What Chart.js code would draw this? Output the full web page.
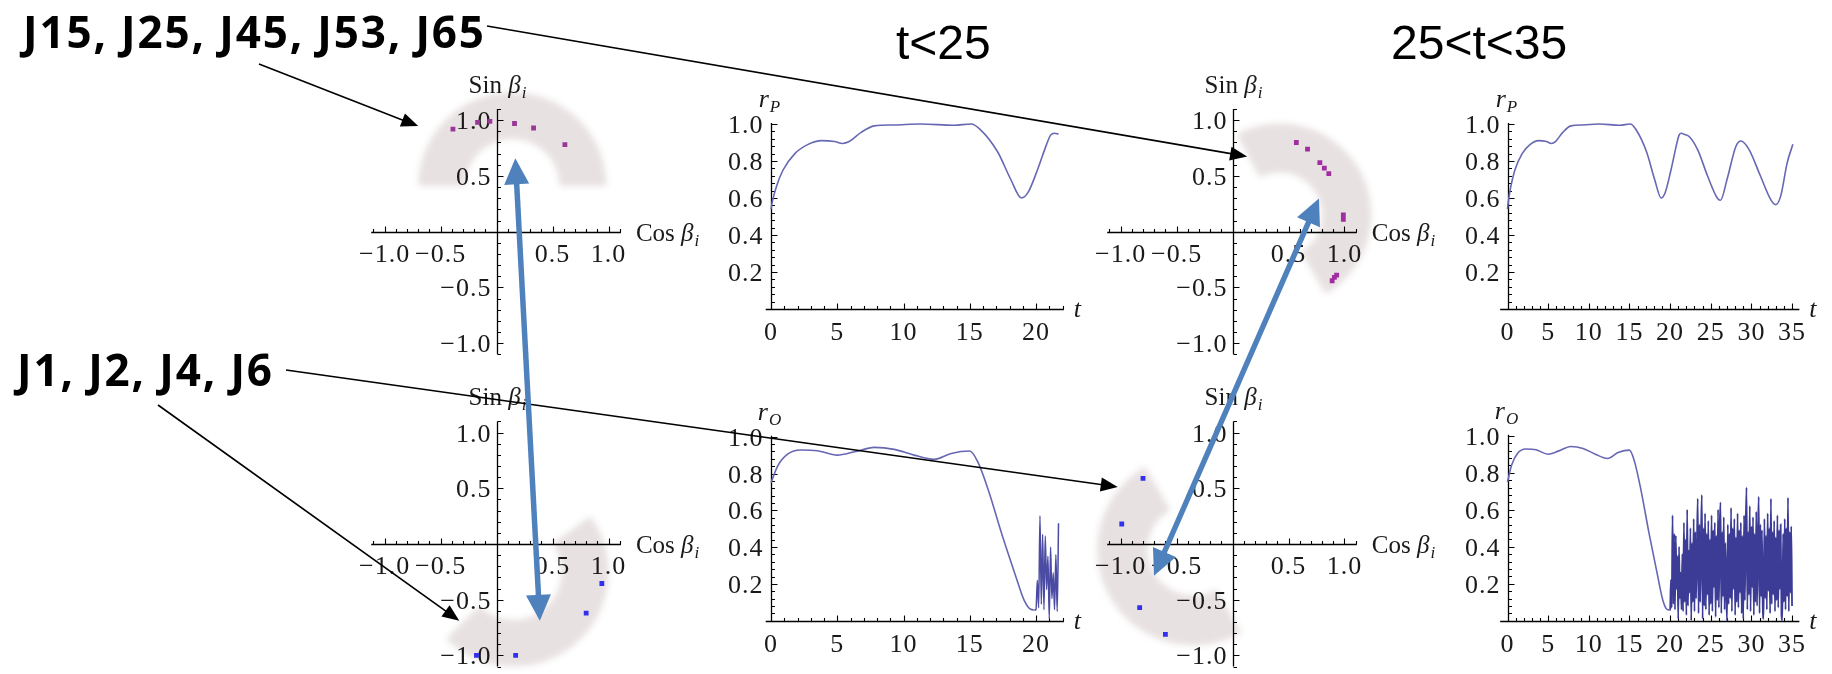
<!DOCTYPE html>
<html><head><meta charset="utf-8">
<script src="https://cdn.jsdelivr.net/npm/chart.js@4.4.1/dist/chart.umd.min.js"></script>
<style>
html,body{margin:0;padding:0;background:#fff;}
#stage{position:relative;width:1832px;height:674px;overflow:hidden;background:#fff;}
#stage canvas{position:absolute;}
</style></head><body><div id="stage"></div>
<script>
// ---------------- data ----------------
const tlCos = [-0.39, -0.17, -0.06, 0.16, 0.33, 0.61];
const tlSin = [0.92, 0.98, 0.99, 0.97, 0.93, 0.78];
const trCos = [0.57, 0.67, 0.78, 0.82, 0.86, 0.99, 0.99, 0.89, 0.91, 0.93];
const trSin = [0.80, 0.74, 0.62, 0.57, 0.52, 0.15, 0.11, -0.44, -0.41, -0.39];
const blCos = [0.94, 0.80, 0.17, -0.18];
const blSin = [-0.354, -0.62, -1.0, -1.0];
const brCos = [-0.80, -0.99, -0.83, -0.60];
const brSin = [0.59, 0.18, -0.57, -0.81];

const rPTime  = [0, 0.1, 0.4, 0.9, 1.8, 2.8, 3.8, 4.8, 5.4, 5.9, 6.8, 7.8, 9.3, 11.3, 13.8, 15.1, 15.8, 17.1, 18.1, 18.9,
                 19.4, 20.1, 20.8, 21.1, 21.4, 21.7, 22.4, 23.4, 24.6, 25.8, 26.2, 27.0, 28.1, 28.7, 29.7, 31.1, 32.4, 33.0, 33.6, 34.4, 35.1];
const rPValue = [0.54, 0.58, 0.66, 0.75, 0.84, 0.89, 0.91, 0.905, 0.895, 0.905, 0.955, 0.99, 0.995, 1.0, 0.993, 1.0, 0.97, 0.85, 0.70, 0.60,
                 0.63, 0.75, 0.89, 0.94, 0.95, 0.945, 0.93, 0.86, 0.72, 0.60, 0.588, 0.70, 0.88, 0.908, 0.863, 0.72, 0.59, 0.564, 0.61, 0.79, 0.89];

const rOTime  = [0, 0.5, 1.25, 2.25, 3.5, 5.0, 6.3, 7.8, 9.3, 10.8, 12.3, 13.6, 15.0, 15.6, 16.4, 17.4, 18.4, 19.1, 19.6, 19.9];
const rOValue = [0.75, 0.84, 0.905, 0.928, 0.924, 0.90, 0.918, 0.942, 0.931, 0.90, 0.877, 0.909, 0.922, 0.864, 0.71, 0.475, 0.257, 0.112, 0.062, 0.058];
// r_O after the break-up: samples every 0.1 from t = 20.0 to 35.0
const rONoiseStart = 20.0, rONoiseStep = 0.1;
const rONoise = [
  0.06,0.22,0.07,0.57,0.09,0.47,0.06,0.46,0.17,0.35,
  0.01,0.40,0.12,0.26,0.06,0.36,0.05,0.53,0.10,0.44,
  0.03,0.60,0.08,0.38,0.15,0.50,0.00,0.42,0.10,0.55,
  0.05,0.48,0.12,0.40,0.66,0.04,0.52,0.10,0.45,0.68,
  0.01,0.50,0.08,0.58,0.06,0.47,0.14,0.54,0.03,0.44,
  0.09,0.57,0.05,0.49,0.18,0.53,0.02,0.46,0.11,0.60,
  0.07,0.50,0.64,0.04,0.48,0.13,0.56,0.06,0.42,0.16,
  0.00,0.52,0.09,0.47,0.12,0.61,0.05,0.50,0.17,0.55,
  0.03,0.45,0.10,0.58,0.07,0.49,0.15,0.53,0.04,0.46,
  0.01,0.57,0.11,0.50,0.72,0.06,0.48,0.14,0.62,0.05,
  0.51,0.18,0.56,0.03,0.47,0.10,0.59,0.08,0.44,0.67,
  0.04,0.52,0.13,0.49,0.07,0.01,0.55,0.12,0.46,0.06,
  0.58,0.16,0.50,0.04,0.66,0.09,0.48,0.14,0.54,0.05,
  0.45,0.11,0.57,0.07,0.49,0.17,0.52,0.03,0.00,0.47,
  0.10,0.55,0.06,0.50,0.13,0.665,0.05,0.48,0.15,0.51,
  0.08
];

const scatterTicks = [-1, -0.5, 0.5, 1];
const scatterTickLabels = ['\u22121.0', '\u22120.5', '0.5', '1.0'];
const rTicks = [0.2, 0.4, 0.6, 0.8, 1.0];
const rTickLabels = ['0.2', '0.4', '0.6', '0.8', '1.0'];
const tTicksShort = [0, 5, 10, 15, 20];
const tTickLabelsShort = ['0', '5', '10', '15', '20'];
const tTicksLong = [0, 5, 10, 15, 20, 25, 30, 35];
const tTickLabelsLong = ['0', '5', '10', '15', '20', '25', '30', '35'];

const titleEarly = 't<25';
const titleLate = '25<t<35';
const groupTop = 'J15, J25, J45, J53, J65';
const groupBottom = 'J1, J2, J4, J6';

// ---------------- helpers ----------------
const SERIF = '"Liberation Serif", "Times New Roman", serif';
const stage = document.getElementById('stage');

function mkCanvas(rect, z) {
  const c = document.createElement('canvas');
  c.width = rect[2]; c.height = rect[3];
  c.style.left = rect[0] + 'px'; c.style.top = rect[1] + 'px';
  c.style.width = rect[2] + 'px'; c.style.height = rect[3] + 'px';
  c.style.zIndex = z;
  stage.appendChild(c);
  return c;
}
function pts(xs, ys) { return xs.map((x, i) => ({ x: x, y: ys[i] })); }

function drawRich(ctx, parts, x, y, align) {
  ctx.letterSpacing = '0px';
  let w = 0;
  const ms = parts.map(p => { ctx.font = p.f + ' ' + SERIF; const m = ctx.measureText(p.t).width + (p.kern || 0); w += m; return m; });
  let cx = align === 'center' ? x - w / 2 : (align === 'right' ? x - w : x);
  ctx.textAlign = 'left'; ctx.textBaseline = 'alphabetic';
  parts.forEach((p, i) => { ctx.font = p.f + ' ' + SERIF; ctx.fillText(p.t, cx, y + (p.dy || 0)); cx += ms[i]; });
}

function drawBand(ch, b) {
  const ctx = ch.ctx, X = v => ch.scales.x.getPixelForValue(v), Y = v => ch.scales.y.getPixelForValue(v);
  ctx.save();
  ctx.filter = 'blur(3px)';
  ctx.fillStyle = '#e8e1e1';
  ctx.beginPath();
  const n = 72;
  for (let i = 0; i <= n; i++) {
    const a = (b.a0 + (b.a1 - b.a0) * i / n) * Math.PI / 180;
    const px = X(b.cx + b.rOut * Math.cos(a)), py = Y(b.cy + b.rOut * Math.sin(a));
    if (i === 0) ctx.moveTo(px, py); else ctx.lineTo(px, py);
  }
  for (let i = n; i >= 0; i--) {
    const a = (b.a0 + (b.a1 - b.a0) * i / n) * Math.PI / 180;
    ctx.lineTo(X(b.cx + b.rIn * Math.cos(a)), Y(b.cy + b.rIn * Math.sin(a)));
  }
  ctx.closePath(); ctx.fill();
  ctx.restore();
}

function drawScatterAxes(ch) {
  const ctx = ch.ctx, X = v => ch.scales.x.getPixelForValue(v), Y = v => ch.scales.y.getPixelForValue(v);
  const x0 = Math.round(X(0)) + 0.5, y0 = Math.round(Y(0)) + 0.5;
  const xa0 = -1.12, xa1 = 1.11, ya0 = -1.1, ya1 = 1.1;
  ctx.save();
  ctx.strokeStyle = '#000'; ctx.lineWidth = 1.3;
  ctx.beginPath();
  ctx.moveTo(X(xa0), y0); ctx.lineTo(X(xa1), y0);
  ctx.moveTo(x0, Y(ya0)); ctx.lineTo(x0, Y(ya1));
  ctx.stroke();
  ctx.lineWidth = 1.1;
  ctx.beginPath();
  for (let k = -11; k <= 11; k++) {
    if (k === 0) continue;
    const v = k / 10, L = (k % 5 === 0) ? 6 : 3.5;
    if (v >= xa0 && v <= xa1) { const px = Math.round(X(v)) + 0.5; ctx.moveTo(px, y0); ctx.lineTo(px, y0 - L); }
    if (v >= ya0 && v <= ya1) { const py = Math.round(Y(v)) + 0.5; ctx.moveTo(x0, py); ctx.lineTo(x0 + L, py); }
  }
  ctx.stroke();
  ctx.fillStyle = '#1a1a1a';
  ctx.font = '26px ' + SERIF; ctx.letterSpacing = '1px'; ctx.textBaseline = 'alphabetic';
  ctx.textAlign = 'center';
  scatterTicks.forEach((v, i) => ctx.fillText(scatterTickLabels[i], X(v), y0 + 29));
  ctx.textAlign = 'right';
  scatterTicks.forEach((v, i) => ctx.fillText(scatterTickLabels[i], x0 - 6, Y(v) + 9));
  drawRich(ctx, [{ t: 'Cos ', f: '25px' }, { t: '\u03B2', f: 'italic 25px', kern: 1 }, { t: 'i', f: 'italic 17px', dy: 5 }], X(xa1) + 15, y0 + 8, 'left');
  drawRich(ctx, [{ t: 'Sin ', f: '25px' }, { t: '\u03B2', f: 'italic 25px', kern: 1 }, { t: 'i', f: 'italic 17px', dy: 5 }], x0, Y(ya1) - 16, 'center');
  ctx.restore();
}

function drawLineAxes(ch, s) {
  const ctx = ch.ctx, X = v => ch.scales.x.getPixelForValue(v), Y = v => ch.scales.y.getPixelForValue(v);
  const x0 = Math.round(X(0)) + 0.5, y0 = Math.round(Y(0)) + 0.5;
  ctx.save();
  ctx.strokeStyle = '#000'; ctx.lineWidth = 1.3;
  ctx.beginPath();
  ctx.moveTo(X(s.tMin), y0); ctx.lineTo(X(s.tMax), y0);
  ctx.moveTo(x0, y0); ctx.lineTo(x0, Y(1.005));
  ctx.stroke();
  ctx.lineWidth = 1.1;
  ctx.beginPath();
  for (let k = 1; k <= Math.floor(s.tMax); k++) {
    const L = (k % 5 === 0) ? 6 : 3.5, px = Math.round(X(k)) + 0.5;
    ctx.moveTo(px, y0); ctx.lineTo(px, y0 - L);
  }
  for (let k = 1; k <= 25; k++) {
    const L = (k % 5 === 0) ? 6 : 3.5, py = Math.round(Y(k * 0.04)) + 0.5;
    ctx.moveTo(x0, py); ctx.lineTo(x0 + L, py);
  }
  ctx.stroke();
  ctx.fillStyle = '#1a1a1a';
  ctx.font = '26px ' + SERIF; ctx.letterSpacing = '1px'; ctx.textBaseline = 'alphabetic';
  ctx.textAlign = 'center';
  s.ticks.forEach((v, i) => ctx.fillText(s.labels[i], X(v), y0 + 30));
  ctx.textAlign = 'right';
  rTicks.forEach((v, i) => ctx.fillText(rTickLabels[i], x0 - 8, Y(v) + 9));
  drawRich(ctx, [{ t: 'r', f: 'italic 26px', kern: 1 }, { t: s.sub, f: 'italic 17px', dy: 5 }], x0 - 2, Y(1.0) - 17, 'center');
  drawRich(ctx, [{ t: 't', f: 'italic 26px' }], X(s.tMax) + 10, y0 + 7, 'left');
  ctx.restore();
}

function buildChart(p) {
  const cv = mkCanvas(p.rect, 1);
  const xmin = (p.rect[0] - p.origin[0]) / p.ppu[0];
  const xmax = (p.rect[0] + p.rect[2] - p.origin[0]) / p.ppu[0];
  const ymax = (p.origin[1] - p.rect[1]) / p.ppu[1];
  const ymin = (p.origin[1] - p.rect[1] - p.rect[3]) / p.ppu[1];
  p.chart = new Chart(cv, {
    type: 'scatter',
    data: { datasets: p.datasets },
    options: {
      responsive: false, maintainAspectRatio: false, animation: false, devicePixelRatio: 1,
      events: [],
      layout: { padding: 0 },
      plugins: { legend: { display: false }, tooltip: { enabled: false }, title: { display: false } },
      scales: {
        x: { type: 'linear', display: false, min: xmin, max: xmax, bounds: 'data', grace: 0 },
        y: { type: 'linear', display: false, min: ymin, max: ymax, bounds: 'data', grace: 0 }
      }
    },
    plugins: [{ id: 'decor', beforeDatasetsDraw(ch) { p.decor(ch); } }]
  });
  return p.chart;
}

function dotSet(xs, ys, color) {
  return { data: pts(xs, ys), showLine: false, pointStyle: 'rect', pointRadius: 3.4, pointHoverRadius: 3.4,
           backgroundColor: color, borderColor: color, borderWidth: 0 };
}
function lineSet(data, color, w) {
  return { data: data, showLine: true, pointRadius: 0, pointHoverRadius: 0, borderColor: color, backgroundColor: color,
           borderWidth: w, cubicInterpolationMode: 'monotone', fill: false };
}

// ---------------- series ----------------
const rPSeries = pts(rPTime, rPValue);
const rOSmooth = pts(rOTime, rOValue);
const rONoisy = [rOSmooth[rOSmooth.length - 1]].concat(
  rONoise.map((v, i) => ({ x: +(rONoiseStart + i * rONoiseStep).toFixed(2), y: v })));
const shortCut = 21.75;
const SMOOTH = '#6767b4', DENSE = '#3c3c96';

// ---------------- panels ----------------
const panels = {
  tl: { rect: [340, 62, 380, 310], origin: [496, 232], ppu: [114, 114],
        datasets: [dotSet(tlCos, tlSin, '#9a379a')],
        band: { cx: 0.14, cy: 0.41, rIn: 0.42, rOut: 0.84, a0: 0, a1: 180 } },
  tr: { rect: [1076, 62, 372, 310], origin: [1232, 232], ppu: [114, 114],
        datasets: [dotSet(trCos, trSin, '#a02ea0')],
        band: { cx: 0.42, cy: 0.15, rIn: 0.38, rOut: 0.82, a0: -60, a1: 118 } },
  bl: { rect: [340, 375, 380, 299], origin: [496, 544.5], ppu: [114, 114],
        datasets: [dotSet(blCos, blSin, '#3030ee')],
        band: { cx: 0.15, cy: -0.25, rIn: 0.43, rOut: 0.85, a0: 225, a1: 396 } },
  br: { rect: [1076, 375, 372, 299], origin: [1232, 544.5], ppu: [114, 114],
        datasets: [dotSet(brCos, brSin, '#3030ee')],
        band: { cx: -0.35, cy: -0.05, rIn: 0.41, rOut: 0.86, a0: 120, a1: 300 } },
  p2: { rect: [722, 88, 370, 262], origin: [771, 309], ppu: [13.25, 185],
        datasets: [lineSet(rPSeries.filter(d => d.x <= shortCut), SMOOTH, 1.6)],
        axes: { tMin: -0.4, tMax: 22.1, ticks: tTicksShort, labels: tTickLabelsShort, sub: 'P' } },
  p4: { rect: [1455, 88, 377, 262], origin: [1507.5, 309], ppu: [8.13, 185],
        datasets: [lineSet(rPSeries, SMOOTH, 1.6)],
        axes: { tMin: -0.9, tMax: 35.9, ticks: tTicksLong, labels: tTickLabelsLong, sub: 'P' } },
  p6: { rect: [722, 400, 370, 274], origin: [771, 620.7], ppu: [13.25, 184],
        datasets: [lineSet(rOSmooth, SMOOTH, 1.6), lineSet(rONoisy.filter(d => d.x <= shortCut), '#4b4ba4', 1.5)],
        axes: { tMin: -0.4, tMax: 22.1, ticks: tTicksShort, labels: tTickLabelsShort, sub: 'O' } },
  p8: { rect: [1455, 400, 377, 274], origin: [1507.5, 620.7], ppu: [8.13, 185],
        datasets: [lineSet(rOSmooth, SMOOTH, 1.6), lineSet(rONoisy, DENSE, 1.8)],
        axes: { tMin: -0.9, tMax: 35.9, ticks: tTicksLong, labels: tTickLabelsLong, sub: 'O' } }
};

Object.values(panels).forEach(p => {
  if (p.band) p.decor = ch => { drawBand(ch, p.band); drawScatterAxes(ch); };
  else p.decor = ch => drawLineAxes(ch, p.axes);
  buildChart(p);
});

// ---------------- annotations overlay ----------------
const ov = mkCanvas([0, 0, 1832, 674], 10);
const o = ov.getContext('2d');

function pagePt(p, vx, vy) {
  return [p.rect[0] + p.chart.scales.x.getPixelForValue(vx), p.rect[1] + p.chart.scales.y.getPixelForValue(vy)];
}
function drawArrow(ctx, a, b, st) {
  const dx = b[0] - a[0], dy = b[1] - a[1], L = Math.hypot(dx, dy), ux = dx / L, uy = dy / L;
  const s0 = st.both ? st.head * 0.8 : 0, s1 = L - st.head * 0.8;
  ctx.save();
  ctx.strokeStyle = st.color; ctx.fillStyle = st.color; ctx.lineWidth = st.w; ctx.lineCap = 'butt';
  ctx.beginPath(); ctx.moveTo(a[0] + ux * s0, a[1] + uy * s0); ctx.lineTo(a[0] + ux * s1, a[1] + uy * s1); ctx.stroke();
  const head = (p, vx, vy) => {
    ctx.beginPath();
    ctx.moveTo(p[0], p[1]);
    ctx.lineTo(p[0] - vx * st.head - vy * st.hw / 2, p[1] - vy * st.head + vx * st.hw / 2);
    ctx.lineTo(p[0] - vx * st.head + vy * st.hw / 2, p[1] - vy * st.head - vx * st.hw / 2);
    ctx.closePath(); ctx.fill();
  };
  head(b, ux, uy);
  if (st.both) head(a, -ux, -uy);
  ctx.restore();
}
function fitBold(ctx, text, size, targetW) {
  ctx.letterSpacing = '0px';
  ctx.font = '700 ' + size + 'px "Open Sans", "DejaVu Sans", sans-serif';
  const w = ctx.measureText(text).width;
  const ls = (targetW - w) / (text.length - 1);
  ctx.letterSpacing = ls.toFixed(2) + 'px';
}

o.fillStyle = '#000';
o.textAlign = 'left'; o.textBaseline = 'alphabetic';
fitBold(o, groupTop, 44, 461);
o.fillText(groupTop, 23, 48);
fitBold(o, groupBottom, 44, 255);
o.fillText(groupBottom, 17, 386);
o.letterSpacing = '0px';
o.font = '48px "Liberation Sans", Arial, sans-serif';
o.fillText(titleEarly, 896, 59);
o.fillText(titleLate, 1391, 59);

const BLACK = { color: '#000', w: 1.6, head: 17, hw: 14, both: false };
drawArrow(o, [487, 26], pagePt(panels.tr, 0.13, 0.675), BLACK);
drawArrow(o, [259, 64], pagePt(panels.tl, -0.70, 0.947), BLACK);
drawArrow(o, [158, 405], pagePt(panels.bl, -0.333, -0.689), BLACK);
drawArrow(o, [286, 370], pagePt(panels.br, -1.026, 0.513), BLACK);

const BLUE = { color: '#4f81bd', w: 5.5, head: 26, hw: 25, both: true };
drawArrow(o, pagePt(panels.tl, 0.167, 0.658), pagePt(panels.bl, 0.386, -0.689), BLUE);
drawArrow(o, pagePt(panels.tr, 0.772, 0.298), pagePt(panels.br, -0.702, -0.285), BLUE);
</script>
</body></html>
